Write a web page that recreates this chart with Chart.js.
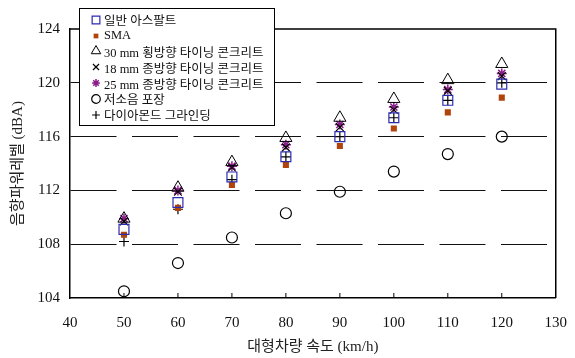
<!DOCTYPE html>
<html>
<head>
<meta charset="utf-8">
<script src="https://cdn.jsdelivr.net/npm/chart.js@4.4.0/dist/chart.umd.min.js"></script>
<style>
  body { margin: 0; background: #fff; }
  #wrap { position: relative; width: 575px; height: 358px; }
  #legend {
    position: absolute; left: 79px; top: 8px; width: 196px; height: 118px;
    border: 1px solid #000; background: #fff; box-sizing: border-box; padding-top: 3px;
    font-family: "Liberation Serif", "Noto Sans CJK KR", serif; font-size: 12.5px; color: #111;
  }
  .row { height: 15.8px; display: flex; align-items: center; white-space: nowrap; }
  .row canvas { margin-left: 9px; margin-right: 1px; }
</style>
</head>
<body>
<div id="wrap">
  <canvas id="myChart" width="575" height="358"></canvas>
  <div id="legend"></div>
</div>
<script>
// Chart values
const speeds = [50, 60, 70, 80, 90, 100, 110, 120];
const seriesNames = ['일반 아스팔트', 'SMA', '30 mm 횡방향 타이닝 콘크리트', '18 mm 종방향 타이닝 콘크리트',
  '25 mm 종방향 타이닝 콘크리트', '저소음 포장', '다이아몬드 그라인딩'];
const asphalt = [109.1, 111.1, 113.0, 114.5, 116.0, 117.4, 118.7, 119.9];
const sma = [108.7, 110.7, 112.4, 113.9, 115.3, 116.6, 117.8, 118.9];
const tining30 = [109.9, 112.2, 114.1, 115.9, 117.4, 118.8, 120.2, 121.4];
const tining18 = [109.7, 111.9, 113.7, 115.2, 116.7, 118.0, 119.4, 120.5];
const tining25 = [109.9, 112.0, 113.8, 115.4, 116.9, 118.2, 119.5, 120.7];
const lowNoise = [104.5, 106.6, 108.5, 110.3, 111.9, 113.4, 114.7, 116.0];
const grinding = [108.2, 110.6, 112.8, 114.5, 116.0, 117.4, 118.7, 120.0];
const xTicks = [40, 50, 60, 70, 80, 90, 100, 110, 120, 130];
const yTicks = [104, 108, 112, 116, 120, 124];

// marker styles per series
const markers = [
  { style: 'rect', r: 7, color: '#2b2bb0', fill: 'rgba(0,0,0,0)', lw: 1.2 },
  { style: 'rect', r: 4.3, color: '#b0440c', fill: '#b0440c', lw: 0 },
  { style: 'triangle', r: 7, color: '#000', fill: 'rgba(0,0,0,0)', lw: 1 },
  { style: 'crossRot', r: 5.5, color: '#000', fill: 'rgba(0,0,0,0)', lw: 1.2 },
  { style: 'star', r: 5, color: '#8b1a8b', fill: 'rgba(0,0,0,0)', lw: 1.5 },
  { style: 'circle', r: 5.5, color: '#000', fill: 'rgba(0,0,0,0)', lw: 1.2 },
  { style: 'cross', r: 5, color: '#000', fill: 'rgba(0,0,0,0)', lw: 1.2 }
];
const allSeries = [asphalt, sma, tining30, tining18, tining25, lowNoise, grinding];

const serif = '"Liberation Serif", "Noto Sans CJK KR", serif';

const datasets = allSeries.map((vals, i) => ({
  label: seriesNames[i],
  data: speeds.map((s, j) => ({ x: s, y: vals[j] })),
  pointStyle: markers[i].style,
  pointRadius: markers[i].r,
  pointBorderColor: markers[i].color,
  pointBackgroundColor: markers[i].fill,
  pointBorderWidth: markers[i].lw,
  showLine: false
}));

// frame + inward ticks on x axis
const framePlugin = {
  id: 'frame',
  afterDraw(chart) {
    const { ctx, chartArea: a, scales } = chart;
    ctx.save();
    ctx.strokeStyle = '#000';
    ctx.lineWidth = 1.5;
    ctx.beginPath();
    ctx.moveTo(a.left, a.top);
    ctx.lineTo(a.right, a.top);
    ctx.lineTo(a.right, a.bottom);
    ctx.stroke();
    ctx.lineWidth = 1;
    ctx.beginPath();
    scales.x.ticks.forEach(t => {
      if (t.value <= 40 || t.value >= 130) return;
      const px = scales.x.getPixelForValue(t.value);
      ctx.moveTo(px, a.bottom);
      ctx.lineTo(px, a.bottom - 5);
    });
    ctx.stroke();
    ctx.restore();
  }
};

const ctx = document.getElementById('myChart');
const myChart = new Chart(ctx, {
  type: 'scatter',
  data: { datasets: datasets },
  plugins: [framePlugin],
  options: {
    responsive: false,
    animation: false,
    layout: { padding: { top: 29, right: 15, left: 0, bottom: 0 } },
    plugins: { legend: { display: false }, tooltip: { enabled: false } },
    scales: {
      x: {
        type: 'linear', min: 40, max: 130,
        afterBuildTicks: s => { s.ticks = xTicks.map(v => ({ value: v })); },
        afterFit: s => { s.height = 60; },
        grid: { display: false },
        border: { display: true, color: '#000', width: 1.5 },
        ticks: { color: '#111', padding: 8, font: { family: serif, size: 15 } },
        title: { display: true, text: '대형차량 속도 (km/h)', color: '#222',
          font: { family: serif, size: 15 }, padding: { top: 0, bottom: 2 } }
      },
      y: {
        min: 104, max: 124,
        afterBuildTicks: s => { s.ticks = yTicks.map(v => ({ value: v })); },
        afterFit: s => { s.width = 70; },
        grid: {
          color: c => (c.tick && (c.tick.value === 104 || c.tick.value === 124)) ? 'rgba(0,0,0,0)' : '#111',
          lineWidth: 1, drawTicks: false
        },
        border: { display: true, color: '#000', width: 1.5, dash: [46, 15.5] },
        ticks: { color: '#111', padding: 10, font: { family: serif, size: 15 } },
        title: { display: true, text: '음향파워레벨 (dBA)', color: '#222',
          font: { family: serif, size: 15 }, padding: { top: 9, bottom: 0 } }
      }
    }
  }
});

// HTML legend, markers drawn with Chart.js helper
const legendBox = document.getElementById('legend');
seriesNames.forEach((name, i) => {
  const row = document.createElement('div');
  row.className = 'row';
  const c = document.createElement('canvas');
  c.width = 14; c.height = 14;
  const m = markers[i];
  const g = c.getContext('2d');
  g.strokeStyle = m.color;
  g.fillStyle = m.fill;
  g.lineWidth = m.lw;
  Chart.helpers.drawPoint(g, { pointStyle: m.style, radius: m.r * 0.78, borderWidth: m.lw, rotation: 0 }, 7, 7);
  row.appendChild(c);
  const span = document.createElement('span');
  span.textContent = name;
  row.appendChild(span);
  legendBox.appendChild(row);
});
</script>
</body>
</html>
